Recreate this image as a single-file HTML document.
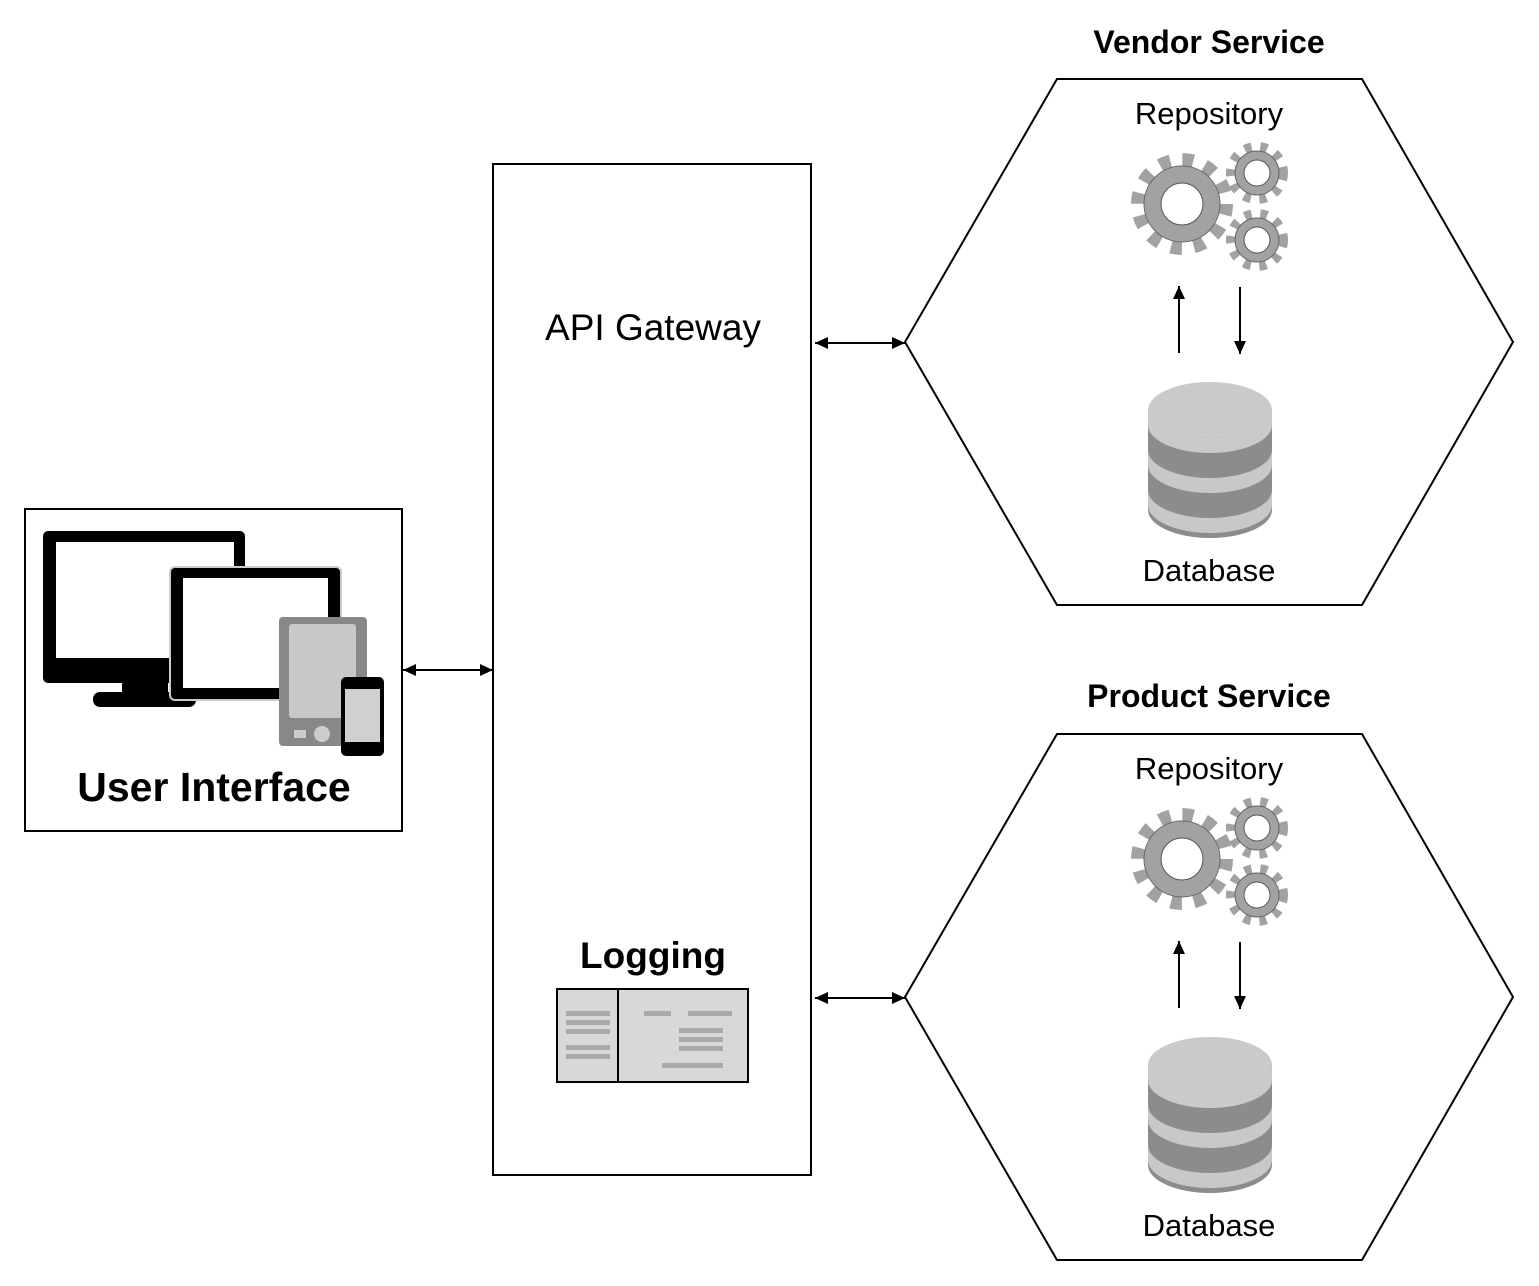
<!DOCTYPE html>
<html><head><meta charset="utf-8"><style>
body{margin:0;background:#fff}
svg{display:block}
text{font-family:"Liberation Sans",sans-serif}
</style></head><body>
<svg width="1539" height="1286" viewBox="0 0 1539 1286">
<defs>
<marker id="ah" markerWidth="14" markerHeight="14" refX="13" refY="6" orient="auto-start-reverse" markerUnits="userSpaceOnUse"><path d="M0,0 L13,6 L0,12 z" fill="#000"/></marker>
<g id="gear-big">
<circle r="44" fill="none" stroke="#a2a2a2" stroke-width="14" stroke-dasharray="11 12.04"/>
<circle r="38" fill="#a2a2a2" stroke="#666" stroke-width="1"/>
<circle r="21" fill="#fff" stroke="#555" stroke-width="1"/>
</g>
<g id="gear-sm">
<circle r="26" fill="none" stroke="#a2a2a2" stroke-width="10" stroke-dasharray="7 8.7"/>
<circle r="22" fill="#a2a2a2" stroke="#666" stroke-width="1"/>
<circle r="13" fill="#fff" stroke="#555" stroke-width="1"/>
</g>
<g id="db">
<path d="M-62,0 V100 A62,28 0 0 0 62,100 V0 Z" fill="#8c8c8c"/>
<path d="M-62,40 A62,28 0 0 0 62,40 V55 A62,28 0 0 1 -62,55 Z" fill="#c8c8c8"/>
<path d="M-62,80 A62,28 0 0 0 62,80 V95 A62,28 0 0 1 -62,95 Z" fill="#c8c8c8"/>
<ellipse cx="0" cy="0" rx="62" ry="28" fill="#cacaca"/>
<path d="M-62,0 V15 A62,28 0 0 0 62,15 V0 A62,28 0 0 1 -62,0Z" fill="#cacaca"/>
</g>
<g id="svc">
<text x="1209" y="124" font-size="31" text-anchor="middle">Repository</text>
<use href="#gear-big" x="1182" y="204"/>
<use href="#gear-sm" x="1257" y="173"/>
<use href="#gear-sm" x="1257" y="240"/>
<line x1="1179" y1="353" x2="1179" y2="286" stroke="#000" stroke-width="2" marker-end="url(#ah)"/>
<line x1="1240" y1="287" x2="1240" y2="354" stroke="#000" stroke-width="2" marker-end="url(#ah)"/>
<use href="#db" x="1210" y="410"/>
<text x="1209" y="581" font-size="31" text-anchor="middle">Database</text>
<polygon points="1057,79 1362,79 1513,342 1362,605 1057,605 905,342" fill="none" stroke="#000" stroke-width="2"/>
<line x1="815" y1="343" x2="905" y2="343" stroke="#000" stroke-width="2" marker-start="url(#ah)" marker-end="url(#ah)"/>
</g>
</defs>

<text x="1209" y="53" font-size="32" font-weight="bold" text-anchor="middle">Vendor Service</text>
<use href="#svc"/>
<text x="1209" y="707" font-size="32" font-weight="bold" text-anchor="middle">Product Service</text>
<use href="#svc" y="655"/>

<rect x="493" y="164" width="318" height="1011" fill="none" stroke="#000" stroke-width="2"/>
<text x="653" y="340" font-size="37" text-anchor="middle">API Gateway</text>
<text x="653" y="968" font-size="37" font-weight="bold" text-anchor="middle">Logging</text>
<rect x="557" y="989" width="191" height="93" fill="#d8d8d8" stroke="#000" stroke-width="2"/>
<line x1="618" y1="989" x2="618" y2="1082" stroke="#000" stroke-width="2"/>
<g fill="#aaa">
<rect x="566" y="1011" width="44" height="5"/><rect x="566" y="1020" width="44" height="5"/><rect x="566" y="1029" width="44" height="5"/>
<rect x="566" y="1045" width="44" height="5"/><rect x="566" y="1054" width="44" height="5"/>
<rect x="644" y="1011" width="27" height="5"/><rect x="688" y="1011" width="44" height="5"/>
<rect x="679" y="1028" width="44" height="5"/><rect x="679" y="1037" width="44" height="5"/><rect x="679" y="1046" width="44" height="5"/>
<rect x="662" y="1063" width="61" height="5"/>
</g>

<rect x="25" y="509" width="377" height="322" fill="none" stroke="#000" stroke-width="2"/>
<line x1="403" y1="670" x2="493" y2="670" stroke="#000" stroke-width="2" marker-start="url(#ah)" marker-end="url(#ah)"/>
<rect x="43" y="531" width="202" height="152" rx="5" fill="#000"/>
<rect x="56" y="542" width="178" height="116" fill="#fff"/>
<rect x="122" y="680" width="46" height="16" fill="#000"/>
<rect x="93" y="692" width="103" height="15" rx="7" fill="#000"/>
<rect x="170" y="567" width="171" height="133" rx="5" fill="#000" stroke="#ccc" stroke-width="2"/>
<rect x="183" y="578" width="145" height="110" fill="#fff"/>
<rect x="279" y="617" width="88" height="129" rx="4" fill="#888"/>
<rect x="289" y="624" width="67" height="94" rx="3" fill="#c8c8c8"/>
<circle cx="322" cy="734" r="8" fill="#ccc"/>
<rect x="294" y="730" width="12" height="8" fill="#ccc"/>
<rect x="341" y="677" width="43" height="79" rx="5" fill="#000"/>
<rect x="345" y="689" width="35" height="53" fill="#d0d0d0"/>
<text x="214" y="801" font-size="41" font-weight="bold" text-anchor="middle">User Interface</text>
</svg>
</body></html>
